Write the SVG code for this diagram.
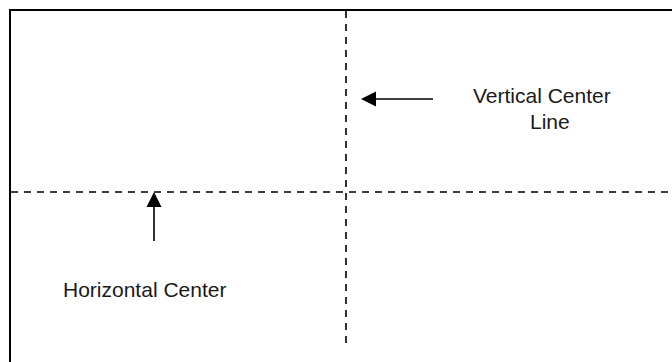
<svg xmlns="http://www.w3.org/2000/svg" width="672" height="362" viewBox="0 0 672 362">
<defs>
<style>
.frame{fill:none;stroke:#000;stroke-width:2}
.dash{fill:none;stroke:#000;stroke-width:1.6;stroke-dasharray:7 6}
.arrow{fill:none;stroke:#000;stroke-width:1.6}
.lbl{font-family:"Liberation Sans",Arial,sans-serif;font-size:21px;fill:#1a1a1a}
</style>
</defs>
<rect width="672" height="362" fill="#fff"/>
<g id="frame">
<path class="frame" d="M10,362 V10 H672"/>
</g>
<g id="center-lines">
<path class="dash" d="M346,11 V347"/>
<path class="dash" d="M11,192 H672"/>
</g>
<g id="connectors">
<path d="M433,99 H376" class="arrow"/>
<path d="M376,91.5 L361,99 L376,106.5 Z" fill="#000"/>
<path d="M154,241 V207" class="arrow"/>
<path d="M146.5,207 L154,192 L161.5,207 Z" fill="#000"/>
</g>
<g id="label-vertical">
<text class="lbl" x="473" y="103">Vertical Center</text>
<text class="lbl" x="530" y="129">Line</text>
</g>
<g id="label-horizontal">
<text class="lbl" x="63" y="297">Horizontal Center</text>
</g>
</svg>
